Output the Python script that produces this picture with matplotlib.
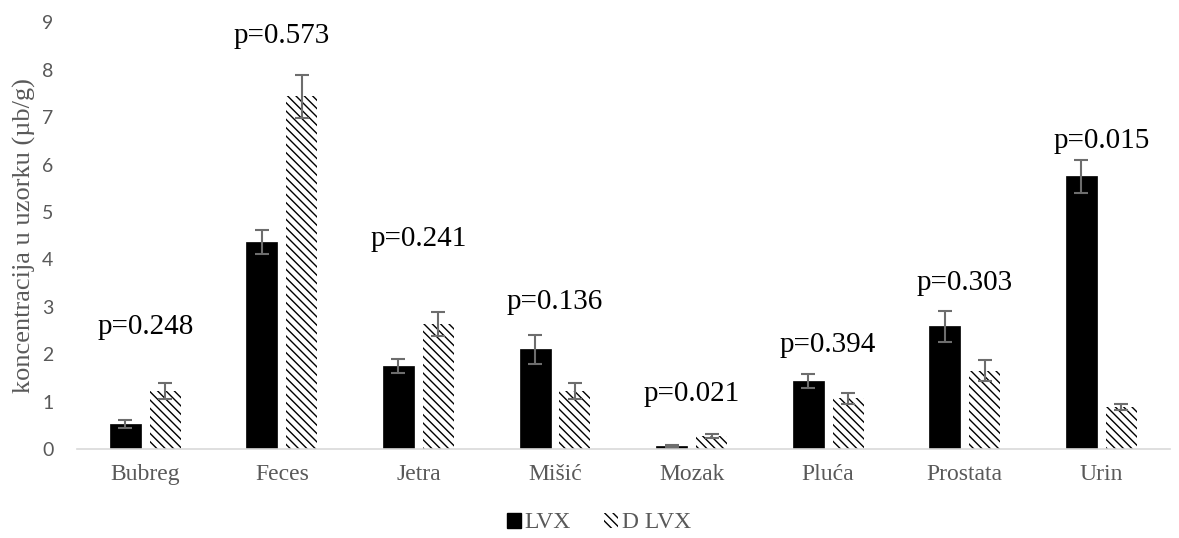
import matplotlib
matplotlib.use("Agg")
import matplotlib.pyplot as plt
import numpy as np
from matplotlib.patches import Patch

categories = ["Bubreg", "Feces", "Jetra", "Mišić", "Mozak", "Pluća", "Prostata", "Urin"]
lvx = [0.53, 4.37, 1.75, 2.10, 0.07, 1.43, 2.59, 5.75]
lvx_err = [0.08, 0.25, 0.15, 0.30, 0.02, 0.15, 0.33, 0.35]
dlvx = [1.22, 7.44, 2.64, 1.22, 0.27, 1.07, 1.65, 0.89]
dlvx_err = [0.17, 0.45, 0.25, 0.17, 0.04, 0.12, 0.22, 0.06]
p_labels = ["p=0.248", "p=0.573", "p=0.241", "p=0.136", "p=0.021", "p=0.394", "p=0.303", "p=0.015"]
p_label_y = [2.43, 8.57, 4.28, 2.95, 1.01, 2.05, 3.35, 6.35]

plt.rcParams['hatch.linewidth'] = 1.0
plt.rcParams['hatch.color'] = 'black'
serif = ['Liberation Serif', 'DejaVu Serif']
gray = '#595959'
hatch = '\\\\\\\\'

fig = plt.figure(figsize=(11.79, 5.38), dpi=100)
ax = fig.add_axes([0.0653, 0.1654, 0.9267, 0.7930])

x = np.arange(len(categories))
w = 0.227
off = 0.146
ax.bar(x - off, lvx, w, color='black', edgecolor='black', linewidth=0.5, zorder=2)
ax.bar(x + off, dlvx, w, color='white', edgecolor='black', linewidth=0, hatch=hatch, zorder=2)
ax.errorbar(x - off, lvx, yerr=lvx_err, fmt='none', ecolor='#6d6d6d', elinewidth=1.5, capsize=5, capthick=1.5, zorder=3)
ax.errorbar(x + off, dlvx, yerr=dlvx_err, fmt='none', ecolor='#6d6d6d', elinewidth=1.5, capsize=5, capthick=1.5, zorder=3)

for xi, lab, yy in zip(x, p_labels, p_label_y):
    ax.text(xi, yy, lab, ha='center', va='baseline', fontsize=21, family=serif, color='black')

ax.set_xlim(-0.5, len(categories) - 0.5)
ax.set_ylim(0, 9)
ax.set_yticks(range(0, 10))
ax.set_xticks(x)
ax.set_xticklabels(categories, family=serif, fontsize=17, color=gray)
for t in ax.get_yticklabels():
    t.set_family(['Lato', 'DejaVu Sans'])
    t.set_fontsize(14)
    t.set_color(gray)
ax.tick_params(axis='both', length=0)
ax.tick_params(axis='x', pad=11)
ax.tick_params(axis='y', pad=17)
for s in ['top', 'right', 'left']:
    ax.spines[s].set_visible(False)
ax.spines['bottom'].set_color('#d9d9d9')
ax.spines['bottom'].set_linewidth(1.2)
ax.set_ylabel("koncentracija u uzorku (µb/g)", family=serif, fontsize=19, color=gray, labelpad=4)

handles = [Patch(facecolor='black', edgecolor='black', label='LVX'),
           Patch(facecolor='white', edgecolor='black', linewidth=0, hatch=hatch, label='D LVX')]
leg = fig.legend(handles=handles, loc='center', bbox_to_anchor=(0.508, 0.028), ncol=2, frameon=False,
                 prop={'family': serif, 'size': 17}, handlelength=0.6, handleheight=0.6,
                 handletextpad=0.15, columnspacing=1.4, borderpad=0)
for t in leg.get_texts():
    t.set_color(gray)

fig.savefig("out.png", dpi=100)
